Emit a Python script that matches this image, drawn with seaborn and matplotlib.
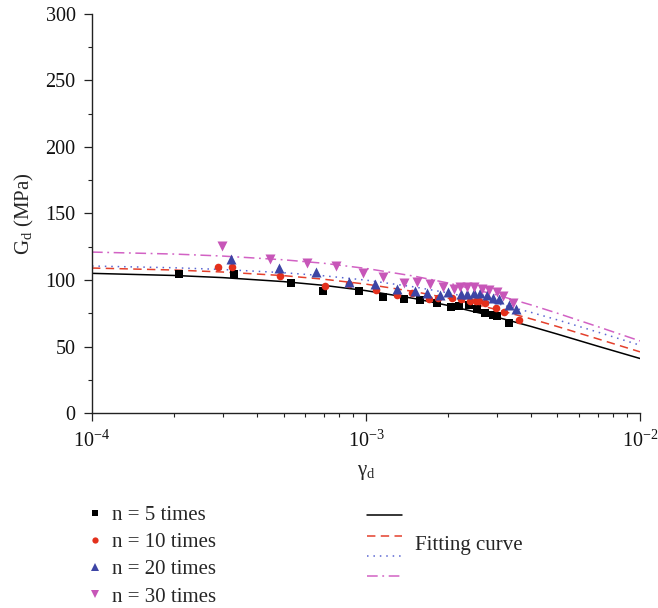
import matplotlib
matplotlib.use("Agg")
import matplotlib.pyplot as plt
import matplotlib.ticker as mticker
from matplotlib.lines import Line2D
import numpy as np
import pandas as pd
import seaborn as sns

# Measured points (strain, shear modulus in MPa)
x_n5 = [2.08e-4, 3.30e-4, 5.32e-4, 6.97e-4, 9.42e-4, 1.153e-3, 1.376e-3, 1.574e-3,
        1.816e-3, 2.042e-3, 2.184e-3, 2.375e-3, 2.542e-3, 2.718e-3, 2.908e-3,
        3.01e-3, 3.33e-3]
g_n5 = [104.5, 104.5, 97.7, 91.7, 91.7, 87.2, 85.7, 85.0, 82.7, 79.7, 80.5, 81.2,
        78.2, 75.2, 73.7, 72.9, 67.7]

x_n10 = [2.88e-4, 3.25e-4, 4.86e-4, 7.08e-4, 8.67e-4, 1.088e-3, 1.298e-3, 1.472e-3,
         1.698e-3, 1.832e-3, 2.06e-3, 2.22e-3, 2.40e-3, 2.52e-3, 2.58e-3, 2.72e-3,
         2.98e-3, 3.19e-3, 3.62e-3]
g_n10 = [109.8, 109.8, 103.0, 95.5, 97.0, 92.5, 88.7, 90.2, 85.7, 86.5, 86.5, 85.7,
         84.2, 84.2, 84.2, 82.7, 78.9, 75.9, 69.9]

x_n20 = [3.21e-4, 4.81e-4, 6.57e-4, 8.67e-4, 1.079e-3, 1.298e-3, 1.51e-3, 1.67e-3,
         1.862e-3, 1.99e-3, 2.22e-3, 2.34e-3, 2.48e-3, 2.61e-3, 2.77e-3, 2.91e-3,
         3.06e-3, 3.33e-3, 3.53e-3]
g_n20 = [115.8, 109.0, 106.0, 98.5, 97.0, 93.2, 91.7, 90.2, 88.7, 91.0, 89.5, 89.5,
         90.2, 90.2, 88.7, 86.5, 85.7, 81.2, 78.2]

x_n30 = [2.98e-4, 4.47e-4, 6.10e-4, 7.78e-4, 9.75e-4, 1.153e-3, 1.376e-3, 1.535e-3,
         1.714e-3, 1.91e-3, 2.095e-3, 2.20e-3, 2.34e-3, 2.48e-3, 2.65e-3, 2.81e-3,
         3.01e-3, 3.16e-3, 3.44e-3]
g_n30 = [125.6, 115.8, 112.8, 110.5, 105.3, 102.3, 97.7, 98.5, 97.0, 94.7, 93.2, 94.7,
         94.7, 94.7, 93.2, 92.5, 91.0, 88.0, 82.7]

# Fitting curves
x_fit = [1e-4, 2e-4, 3e-4, 5e-4, 7e-4, 1e-3, 1.5e-3, 2e-3, 3e-3, 4e-3, 5e-3, 7e-3, 1e-2]
fit_n5 = [105.0, 103.4, 101.8, 98.8, 96.0, 92.0, 86.1, 80.8, 72.1, 65.1, 59.3, 50.3, 41.0]
fit_n10 = [109.0, 107.5, 106.0, 103.3, 100.6, 96.9, 91.3, 86.3, 77.8, 70.8, 65.0, 55.8, 46.0]
fit_n20 = [110.5, 109.2, 107.9, 105.5, 103.2, 99.9, 94.8, 90.3, 82.3, 75.7, 70.0, 60.9, 51.0]
fit_n30 = [121.0, 119.5, 118.0, 115.2, 112.6, 108.7, 102.9, 97.7, 88.8, 81.3, 75.0, 65.0, 54.2]

labels = ["n = 5 times", "n = 10 times", "n = 20 times", "n = 30 times"]
point_colors = ["#000000", "#e3301c", "#3d45a5", "#c756b8"]
line_colors = ["#000000", "#e4402c", "#5a66d2", "#d262c4"]
markers = ["s", "o", "^", "v"]
sizes = [28, 30, 52, 52]
dash_styles = ["-", (0, (5.5, 3.5)), (0, (1, 3.2)), (0, (7, 3, 1.2, 3))]

sns.set_style("ticks")
plt.rcParams["font.family"] = ["Liberation Serif", "DejaVu Serif"]
plt.rcParams["mathtext.fontset"] = "custom"
plt.rcParams["mathtext.rm"] = "Liberation Serif"
plt.rcParams["mathtext.it"] = "Liberation Serif:italic"

fig = plt.figure(figsize=(6.58, 6.08), dpi=100)
ax = fig.add_axes([0.1398, 0.3207, 0.8328, 0.6563])

point_sets = [(x_n5, g_n5), (x_n10, g_n10), (x_n20, g_n20), (x_n30, g_n30)]
fit_sets = [fit_n5, fit_n10, fit_n20, fit_n30]

for i in range(4):
    sns.lineplot(x=x_fit, y=fit_sets[i], ax=ax, color=line_colors[i],
                 linestyle=dash_styles[i], linewidth=1.1, legend=False)

for i in range(4):
    pts = pd.DataFrame({"strain": point_sets[i][0], "G": point_sets[i][1]})
    sns.scatterplot(data=pts, x="strain", y="G", ax=ax, color=point_colors[i],
                    marker=markers[i], s=sizes[i], linewidth=0, legend=False, zorder=3)

ax.set_xscale("log")
ax.set_xlim(1e-4, 1e-2)
ax.set_ylim(0, 300)
ax.yaxis.set_major_locator(mticker.MultipleLocator(50))
ax.yaxis.set_minor_locator(mticker.MultipleLocator(25))
ax.xaxis.set_major_locator(mticker.LogLocator(base=10, numticks=5))
ax.xaxis.set_minor_locator(mticker.LogLocator(base=10, subs=np.arange(2, 10), numticks=20))
ax.xaxis.set_minor_formatter(mticker.NullFormatter())

sns.despine(ax=ax)
for sp in ["left", "bottom"]:
    ax.spines[sp].set_linewidth(1.0)
    ax.spines[sp].set_color("#222222")
ax.tick_params(which="major", direction="out", length=6, width=0.9, labelsize=14.5,
               colors="#222222", labelcolor="#111111")
ax.tick_params(which="minor", direction="out", length=3, width=0.8, colors="#222222")
ax.tick_params(axis="x", which="major", pad=6.5)
ax.tick_params(axis="y", which="major", pad=5.8)

ax.set_xlabel("γ$_{\\mathrm{d}}$", fontsize=15, labelpad=8)
ax.set_ylabel("G$_{\\mathrm{d}}$ (MPa)", fontsize=15, labelpad=6.5)

# Left legend: measured points
pt_handles = [Line2D([], [], linestyle="none", marker=markers[i], color=point_colors[i],
                     markersize=4.5 if i < 2 else 5.5, markeredgewidth=0)
              for i in range(4)]
fig.legend(pt_handles, labels, loc="upper left", bbox_to_anchor=(0.132, 0.169),
           frameon=False, fontsize=15, labelspacing=0.37, handlelength=0.8,
           handletextpad=0.42, borderaxespad=0, borderpad=0)

# Right legend: fitting curves
ln_handles = [Line2D([], [], color=line_colors[i], linestyle=dash_styles[i], linewidth=1.1)
              for i in range(4)]
fig.legend(ln_handles, ["", "", "", ""], loc="upper left", bbox_to_anchor=(0.5576, 0.161),
           frameon=False, fontsize=11, labelspacing=0.42, handlelength=2.3,
           handletextpad=0, borderaxespad=0, borderpad=0)
fig.text(0.631, 0.1035, "Fitting curve", fontsize=15, va="center", ha="left")

fig.savefig("out.png", dpi=100)
